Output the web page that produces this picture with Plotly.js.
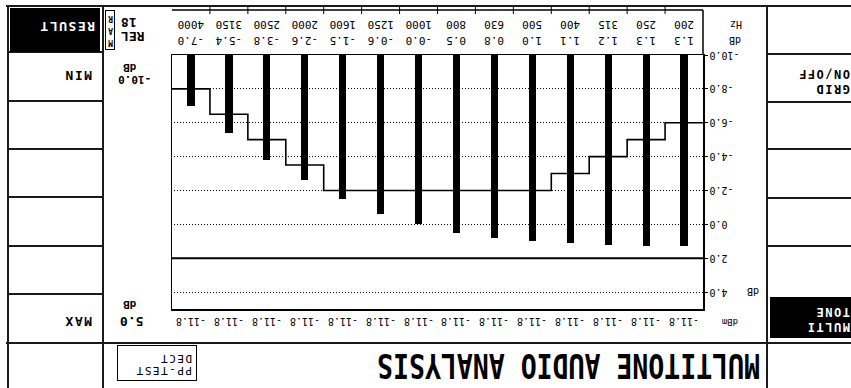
<!DOCTYPE html>
<html>
<head>
<meta charset="utf-8">
<script src="https://cdn.plot.ly/plotly-3.0.1.min.js"></script>
<style>
  html, body { margin:0; padding:0; background:#fff; }
  #screen { position:absolute; left:0; top:0; width:851px; height:388px; overflow:hidden; background:#fff;
            transform:rotate(180deg); transform-origin:50% 50%; }
  #chart { position:absolute; left:0; top:0; width:851px; height:388px; }
  .ln { position:absolute; background:#1a1a1a; }
  .tx { position:absolute; font-family:"DejaVu Sans Mono", monospace; color:#000; white-space:pre; }
</style>
</head>
<body>
<div id="screen"><div id="chart"></div></div>
<script>
const frequencies = [200, 250, 315, 400, 500, 630, 800, 1000, 1250, 1600, 2000, 2500, 3150, 4000]; // Hz
const relLevels   = [1.3, 1.3, 1.2, 1.1, 1.0, 0.8, 0.5, -0.0, -0.6, -1.5, -2.6, -3.8, -5.4, -7.0]; // dB REL
const maskLevels  = [-6.0, -5.0, -4.0, -3.0, -2.0, -2.0, -2.0, -2.0, -2.0, -2.0, -3.5, -5.0, -6.5, -8.0]; // dB lower limit
const genLevels   = [-11.8, -11.8, -11.8, -11.8, -11.8, -11.8, -11.8, -11.8, -11.8, -11.8, -11.8, -11.8, -11.8, -11.8]; // dBm
const yTickVals   = [-10, -8, -6, -4, -2, 0, 2, 4];
const yTickText   = ["-10.0", "-8.0", "-6.0", "-4.0", "-2.0", "0.0", "2.0", "4.0"];
const yMin = -10, yMax = 5;

const fmt = v => ((v < 0 || Object.is(v, -0)) ? "-" : "") + Math.abs(v).toFixed(1);
const idx = frequencies.map((_, i) => i);

// plot-area geometry (pixels, unrotated screen)
const PL = 148, PR = 679, PT = 79, PB = 333;
const px = X => (X - PL) / (PR - PL);
const py = Y => (PB - Y) / (PB - PT);
const MONO = "DejaVu Sans Mono";

const bars = {
  type: "bar", x: idx, y: relLevels.map(v => v - yMin), base: yMin,
  width: 0.19, marker: { color: "#000", line: { width: 0 } }, hoverinfo: "skip"
};
const edges = idx.map(i => i - 0.5).concat([idx.length - 0.5]);
const mask = {
  type: "scatter", mode: "lines", x: edges, y: maskLevels.concat([maskLevels[maskLevels.length - 1]]),
  line: { shape: "hv", color: "#000", width: 1.6 }, hoverinfo: "skip"
};

const annotations = [];
idx.forEach(i => {
  annotations.push({ xref: "x", yref: "paper", x: i, y: py(363), text: String(frequencies[i]), showarrow: false,
    font: { family: MONO, size: 11, color: "#000" }, xanchor: "center", yanchor: "middle" });
  annotations.push({ xref: "x", yref: "paper", x: i, y: py(347), text: fmt(relLevels[i]), showarrow: false,
    font: { family: MONO, size: 11, color: "#000" }, xanchor: "center", yanchor: "middle" });
  annotations.push({ xref: "x", yref: "paper", x: i, y: py(66), text: fmt(genLevels[i]), showarrow: false,
    font: { family: MONO, size: 10, color: "#000" }, xanchor: "center", yanchor: "middle" });
});
const lab = (t, X, Y, size, anchor) => annotations.push({ xref: "paper", yref: "paper", x: px(X), y: py(Y), text: t,
  showarrow: false, font: { family: MONO, size: size, color: "#000" }, xanchor: anchor || "center", yanchor: "middle" });
lab("Hz", 115, 363, 10);
lab("dB", 116, 347, 10);
lab("dBm", 121, 66, 9);
lab("dB", 98, 96, 10);

const shapes = [
  { type: "line", xref: "paper", yref: "y", x0: 0, x1: 1, y0: 2, y1: 2, line: { color: "#000", width: 2 } },
  { type: "line", xref: "paper", yref: "paper", x0: 0, x1: 1, y0: py(378), y1: py(378), line: { color: "#000", width: 1.5 } },
  { type: "line", xref: "paper", yref: "paper", x0: 0, x1: 0, y0: 0, y1: py(378), line: { color: "#000", width: 1.5 } }
];
idx.slice(0, -1).forEach(i => shapes.push({ type: "line", xref: "x", yref: "paper", x0: i + 0.5, x1: i + 0.5,
  y0: py(374), y1: py(383), line: { color: "#000", width: 1 } }));

const layout = {
  width: 851, height: 388,
  margin: { l: PL, r: 851 - PR, t: PT, b: 388 - PB, pad: 0 },
  paper_bgcolor: "rgba(0,0,0,0)", plot_bgcolor: "#fff",
  showlegend: false, bargap: 0,
  xaxis: { range: [-0.5, idx.length - 0.5], showgrid: false, zeroline: false, showticklabels: false, ticks: "",
           showline: true, mirror: true, linecolor: "#000", linewidth: 1.5, fixedrange: true },
  yaxis: { range: [yMin, yMax], tickvals: yTickVals, ticktext: yTickText, ticks: "outside", ticklen: 3,
           tickcolor: "#000", showgrid: true, gridcolor: "#000", gridwidth: 1, griddash: "1px,2px",
           zeroline: false, showline: true, mirror: true, linecolor: "#000", linewidth: 1.5,
           tickfont: { family: MONO, size: 10, color: "#000" }, fixedrange: true },
  annotations: annotations, shapes: shapes
};
Plotly.newPlot("chart", [bars, mask], layout, { staticPlot: true, displayModeBar: false });

// ---- instrument screen furniture (soft keys, frame, title) ----
const scr = document.getElementById("screen");
function line(x, y, w, h) { const d = document.createElement("div"); d.className = "ln";
  Object.assign(d.style, { left: x + "px", top: y + "px", width: w + "px", height: h + "px" }); scr.appendChild(d); return d; }
function text(s, x, yc, size, o) { o = o || {}; const d = document.createElement("div"); d.className = "tx"; d.textContent = s;
  d.style.fontSize = size + "px"; d.style.lineHeight = size + "px"; d.style.top = (yc - size / 2) + "px";
  if (o.right != null) d.style.right = (851 - o.right) + "px"; else d.style.left = x + "px";
  if (o.bold) d.style.fontWeight = "bold"; if (o.ls) d.style.letterSpacing = o.ls + "px";
  if (o.color) d.style.color = o.color; if (o.tf) { d.style.transform = o.tf; d.style.transformOrigin = "left center"; }
  scr.appendChild(d); return d; }

line(0, 381, 845, 2);        // frame edge
line(842, 0, 2, 383);
line(747, 0, 2, 383);        // soft-key column (right)
line(83, 0, 2, 383);         // soft-key column (left)
line(0, 44, 845, 2);         // title separator
[335, 286, 238, 190, 141, 93].forEach(y => line(749, y, 93, 1.5));
[333, 285, 238, 189, 141].forEach(y => line(0, y, 83, 1.5));

// RESULT key (highlighted)
const res = line(751, 336, 90, 44); res.style.background = "#000";
text("RESULT", 756, 361, 13, { bold: true, ls: 1.5, color: "#fff" });
text("MIN", 759, 312, 13, { bold: true, ls: 1.5 });
text("MAX", 759, 66, 13, { bold: true, ls: 1.5 });
// left keys
text("GRID", 1, 299, 12, { bold: true, ls: 1.5 });
text("ON/OFF", 1, 314, 12, { bold: true, ls: 1.5 });
const mt = line(0, 50, 81, 41); mt.style.background = "#000";
text("MULTI", 1, 61, 12, { bold: true, ls: 1.5, color: "#fff" });
text("TONE", 1, 76, 12, { bold: true, ls: 1.5, color: "#fff" });

// scale / mode labels beside the plot
text("REL", 0, 351, 13, { bold: true, right: 730 });
text("18", 0, 365, 13, { bold: true, right: 730 });
const vb = line(736, 338, 10, 40); vb.style.background = "#fff"; vb.style.border = "1px solid #000"; vb.style.boxSizing = "border-box";
text("M", 738, 346, 8, { bold: true }); text("A", 738, 358, 8, { bold: true }); text("R", 738, 370, 8, { bold: true });
text("5.0", 0, 66, 13, { bold: true, right: 731 });
text("dB", 0, 83, 11, { bold: true, right: 728 });
text("-10.0", 0, 308, 11, { bold: true, right: 733 });
text("dB", 0, 320, 11, { bold: true, right: 728 });

// title and instrument box
text("MULTITONE AUDIO ANALYSIS", 91, 23, 26.5, { bold: true, tf: "scaleY(1.24)" });
const box = line(654, 7, 80, 36); box.style.background = "#fff"; box.style.border = "1.5px solid #000"; box.style.boxSizing = "border-box";
text("PP-TEST", 659, 17, 11, { ls: 1.5 });
text("DECT", 659, 29, 11, { ls: 1.5 });
</script>
</body>
</html>
